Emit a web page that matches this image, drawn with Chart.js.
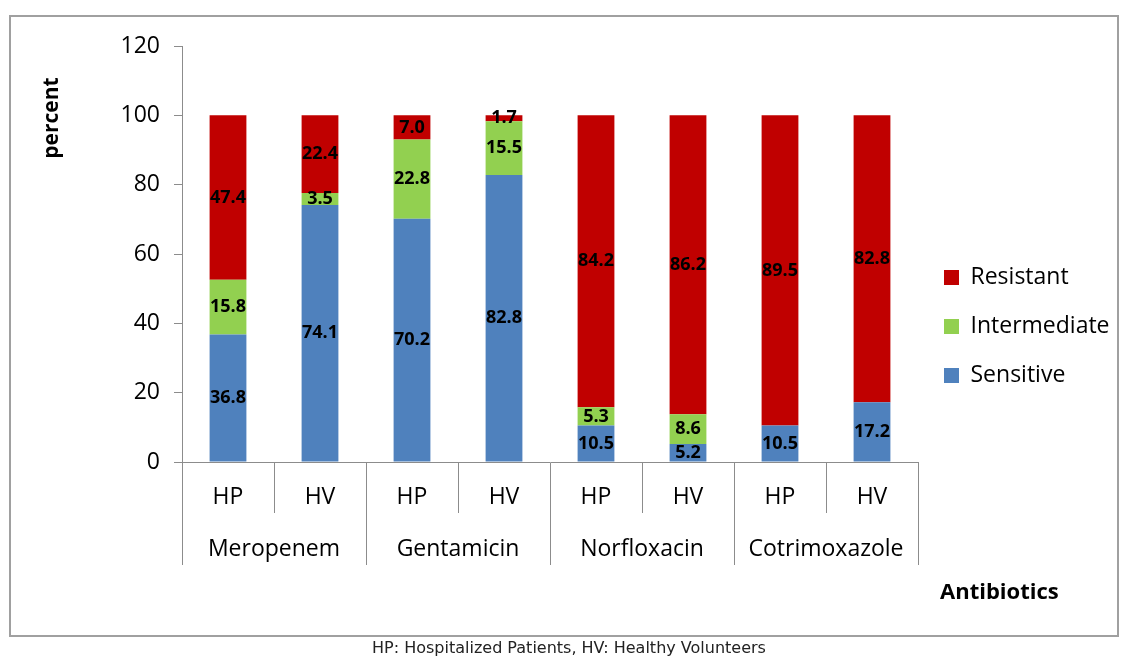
<!DOCTYPE html>
<html>
<head>
<meta charset="utf-8">
<script src="https://cdn.jsdelivr.net/npm/chart.js@4.4.1/dist/chart.umd.min.js"></script>
<style>
      body { margin: 0; background: #fff; }
      #wrap { position: relative; width: 1121px; height: 658px; overflow: hidden; }
      #frame { position: absolute; left: 9px; top: 15px; width: 1106px; height: 618px; border: 2px solid #a0a0a0; pointer-events: none; }
      #yTitle { position: absolute; left: 50px; top: 118px; transform: translate(-50%, -50%) rotate(-90deg); font: bold 21px "Open Sans"; color: #000; white-space: nowrap; }
      #xTitle { position: absolute; left: 940px; top: 575px; font: bold 22px "Open Sans"; color: #000; }
      #note { position: absolute; left: 372px; top: 638px; font: 16px "DejaVu Sans"; color: #222; white-space: nowrap; }
</style>
</head>
<body>
<div id="wrap">
      <canvas id="resistance_chart" width="1121" height="658"></canvas>
      <div id="frame"></div>
      <div id="yTitle">percent</div>
      <div id="xTitle">Antibiotics</div>
      <div id="note">HP: Hospitalized Patients, HV: Healthy Volunteers</div>
</div>
<script>
const groups = ['HP', 'HV', 'HP', 'HV', 'HP', 'HV', 'HP', 'HV'];
const antibiotics = ['Meropenem', 'Gentamicin', 'Norfloxacin', 'Cotrimoxazole'];
const sensitive = [36.8, 74.1, 70.2, 82.8, 10.5, 5.2, 10.5, 17.2];
const intermediate = [15.8, 3.5, 22.8, 15.5, 5.3, 8.6, 0, 0];
const resistant = [47.4, 22.4, 7.0, 1.7, 84.2, 86.2, 89.5, 82.8];
const yTicks = [0, 20, 40, 60, 80, 100, 120];

const lineColor = '#8c8c8c';
const fontFamily = '"Open Sans"';

// value labels in the middle of each segment
const segmentLabels = {
      id: 'segmentLabels',
      afterDatasetsDraw(chart)
      {
            const ctx = chart.ctx;
            ctx.save();
            ctx.font = 'bold 18px ' + fontFamily;
            ctx.fillStyle = '#000';
            ctx.textAlign = 'center';
            ctx.textBaseline = 'middle';
            chart.data.datasets.forEach((ds, di) =>
            {
                  const meta = chart.getDatasetMeta(di);
                  meta.data.forEach((bar, i) =>
                  {
                        const v = ds.data[i];
                        if (!v) return;
                        const p = bar.getProps(['x', 'y', 'base'], true);
                        ctx.fillText(v.toFixed(1), p.x, (p.y + p.base) / 2);
                  });
            });
            ctx.restore();
      }
};

// second level of the category axis: antibiotic names and group dividers
const groupAxis = {
      id: 'groupAxis',
      afterDraw(chart)
      {
            const ctx = chart.ctx;
            const x = chart.scales.x;
            const area = chart.chartArea;
            const top = area.bottom + 51;
            const bottom = area.bottom + 103;
            ctx.save();
            ctx.strokeStyle = lineColor;
            ctx.lineWidth = 1;
            ctx.font = '23px ' + fontFamily;
            ctx.fillStyle = '#000';
            ctx.textAlign = 'center';
            ctx.textBaseline = 'middle';
            for (let g = 0; g <= antibiotics.length; g++)
            {
                  let px;
                  if (g === 0) px = area.left;
                  else if (g === antibiotics.length) px = area.right;
                  else px = (x.getPixelForValue(2 * g - 1) + x.getPixelForValue(2 * g)) / 2;
                  px = Math.round(px) + 0.5;
                  ctx.beginPath();
                  ctx.moveTo(px, top);
                  ctx.lineTo(px, bottom);
                  ctx.stroke();
            }
            antibiotics.forEach((name, g) =>
            {
                  const cx = (x.getPixelForValue(2 * g) + x.getPixelForValue(2 * g + 1)) / 2;
                  ctx.fillText(name, cx, area.bottom + 87);
            });
            ctx.restore();
      }
};

const measure = document.createElement('canvas').getContext('2d');
measure.font = '23px ' + fontFamily;
const legendText = measure.measureText('Intermediate').width;
const legendPad = 26;
const rightPad = Math.max(0, 1121 - 918 - (legendPad + 15 + 11.5 + legendText + 10));

const config = {
      type: 'bar',
      data: {
            labels: groups,
            datasets: [
                  { label: 'Sensitive', data: sensitive, backgroundColor: '#4f81bd' },
                  { label: 'Intermediate', data: intermediate, backgroundColor: '#92d050' },
                  { label: 'Resistant', data: resistant, backgroundColor: '#c00000' }
            ]
      },
      options: {
            responsive: false,
            animation: false,
            layout: {
                  padding: { top: 46, bottom: 51, left: 0, right: rightPad }
            },
            datasets: {
                  bar: { categoryPercentage: 1, barPercentage: 0.4 }
            },
            scales: {
                  x: {
                        stacked: true,
                        grid: {
                              offset: true,
                              drawOnChartArea: false,
                              tickLength: 51,
                              color: lineColor
                        },
                        border: { color: lineColor },
                        ticks: {
                              color: '#000',
                              font: { family: fontFamily, size: 23 },
                              padding: -29
                        },
                        afterFit: (scale) => { scale.height = 145; }
                  },
                  y: {
                        stacked: true,
                        min: 0,
                        max: 120,
                        grid: {
                              drawOnChartArea: false,
                              tickLength: 8,
                              color: lineColor
                        },
                        border: { color: lineColor },
                        afterBuildTicks: (scale) => { scale.ticks = yTicks.map(v => ({ value: v })); },
                        ticks: {
                              color: '#000',
                              font: { family: fontFamily, size: 23 },
                              padding: 14
                        },
                        afterFit: (scale) => { scale.width = 182; }
                  }
            },
            plugins: {
                  legend: {
                        position: 'right',
                        reverse: true,
                        labels: {
                              boxWidth: 15,
                              boxHeight: 15,
                              padding: legendPad,
                              color: '#000',
                              font: { family: fontFamily, size: 23 }
                        }
                  },
                  tooltip: { enabled: false }
            }
      },
      plugins: [segmentLabels, groupAxis]
};

new Chart(document.getElementById('resistance_chart'), config);
</script>
</body>
</html>
